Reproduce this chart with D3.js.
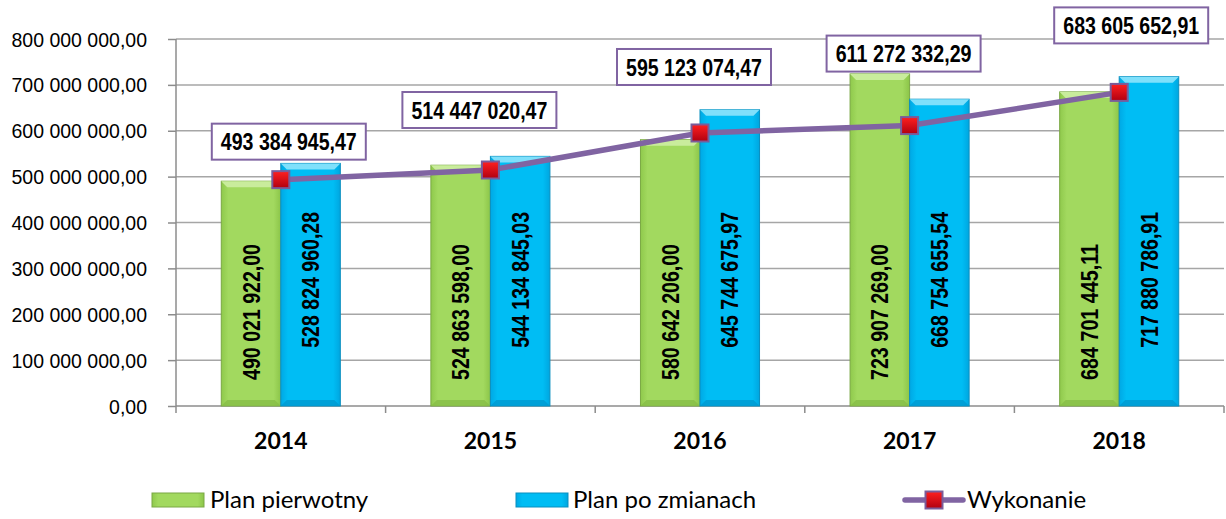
<!DOCTYPE html>
<html>
<head>
<meta charset="utf-8">
<script src="https://cdn.jsdelivr.net/npm/d3@7"></script>
<style>
  html, body { margin: 0; padding: 0; background: #fff; }
  svg { display: block; }
</style>
</head>
<body>
<div id="chart"></div>
<script>
// data
var years = ["2014", "2015", "2016", "2017", "2018"];
var planPierwotny = [490021922.00, 524863598.00, 580642206.00, 723907269.00, 684701445.11];
var planPoZmianach = [528824960.28, 544134845.03, 645744675.97, 668754655.54, 717880786.91];
var wykonanie = [493384945.47, 514447020.47, 595123074.47, 611272332.29, 683605652.91];
var yTicks = [0, 100000000, 200000000, 300000000, 400000000, 500000000, 600000000, 700000000, 800000000];
var seriesNames = ["Plan pierwotny", "Plan po zmianach", "Wykonanie"];

// label boxes were moved by hand in the original, offsets from each point (px)
var boxNudge = [[8, -38], [-11, -60], [-6, -66], [-6, -72], [12, -67]];

var W = 1226, H = 519;
var margin = { top: 39, right: 2, bottom: 113, left: 176 };
var width = W - margin.left - margin.right;
var height = H - margin.top - margin.bottom;

// polish number format: spaces for thousands, comma for decimals
var plFormat = d3.formatLocale({ decimal: ",", thousands: " ", grouping: [3], currency: ["", " zł"] }).format(",.2f");

// narrow bold look (no Arial Narrow here, so squeeze a normal bold horizontally)
var numFont = "'Liberation Sans', Arial, sans-serif";
var numLen = 136;

var svg = d3.select("#chart").append("svg")
    .attr("width", W)
    .attr("height", H);

svg.append("rect").attr("width", W).attr("height", H).attr("fill", "#fff");

var defs = svg.append("defs");

function addGrad(id, stops, horizontal) {
    var g = defs.append("linearGradient").attr("id", id)
        .attr("x1", 0).attr("y1", 0)
        .attr("x2", horizontal ? 1 : 0).attr("y2", horizontal ? 0 : 1);
    stops.forEach(function(s) {
        g.append("stop").attr("offset", s[0]).attr("stop-color", s[1]);
    });
}
addGrad("gGreen", [[0, "#8fc94c"], [0.12, "#a2d95f"], [0.88, "#a2d95f"], [1, "#8cc549"]], true);
addGrad("gCyan", [[0, "#00a8e4"], [0.12, "#00bdf4"], [0.88, "#00bdf4"], [1, "#00a6e0"]], true);
addGrad("gRed", [[0, "#ff2020"], [1, "#b00010"]], false);

var g = svg.append("g")
    .attr("transform", "translate(" + margin.left + "," + margin.top + ")");

var x0 = d3.scaleBand()
    .domain(years)
    .range([0, width])
    .paddingInner(0.432)
    .paddingOuter(0.216);

var x1 = d3.scaleBand()
    .domain([0, 1])
    .range([0, x0.bandwidth()]);

var y = d3.scaleLinear()
    .domain([0, 800000000])
    .range([height, 0]);

// squeeze a text to numLen wide, keeping its own transform
function squeeze(sel, pre) {
    sel.each(function(d, i) {
        var w = this.getComputedTextLength();
        var k = w > 0 ? numLen / w : 1;
        d3.select(this).attr("transform", pre(d, i) + " scale(" + k + ",1)");
    });
}

// gridlines
g.append("g")
    .selectAll("line")
    .data(yTicks.filter(function(d) { return d > 0; }))
    .join("line")
    .attr("x1", 0)
    .attr("x2", width)
    .attr("y1", function(d) { return y(d); })
    .attr("y2", function(d) { return y(d); })
    .attr("stroke", "#a6a6a6")
    .attr("stroke-width", 1.5);

// y axis
var yAxis = d3.axisLeft(y)
    .tickValues(yTicks)
    .tickSize(8)
    .tickFormat(function(d) { return plFormat(d); });

var yG = g.append("g").call(yAxis);
yG.select(".domain").attr("stroke", "#8c8c8c").attr("stroke-width", 1.5).attr("d", "M0," + height + "V0");
yG.selectAll(".tick line").attr("stroke", "#8c8c8c").attr("stroke-width", 1.5);
yG.selectAll(".tick text")
    .attr("x", -29)
    .attr("dy", "0.36em")
    .style("font-family", "'Liberation Sans', Arial, sans-serif")
    .style("font-size", "19.5px")
    .attr("fill", "#000");

// x axis: ticks on category boundaries
var xG = g.append("g").attr("transform", "translate(0," + height + ")");
xG.append("line")
    .attr("x1", 0).attr("x2", width)
    .attr("stroke", "#8c8c8c").attr("stroke-width", 1.5);
xG.selectAll("line.tk")
    .data(d3.range(years.length + 1))
    .join("line")
    .attr("class", "tk")
    .attr("x1", function(i) { return i * width / years.length; })
    .attr("x2", function(i) { return i * width / years.length; })
    .attr("y1", 0).attr("y2", 7)
    .attr("stroke", "#8c8c8c").attr("stroke-width", 1.5);
xG.selectAll("text")
    .data(years)
    .join("text")
    .attr("x", function(d) { return x0(d) + x0.bandwidth() / 2; })
    .attr("y", 43)
    .attr("text-anchor", "middle")
    .style("font-family", "Lato, 'Open Sans', sans-serif")
    .style("font-weight", "bold")
    .style("font-size", "23px")
    .text(function(d) { return d; });

// bars
var barData = [];
years.forEach(function(yr, i) {
    barData.push({ year: yr, s: 0, v: planPierwotny[i] });
    barData.push({ year: yr, s: 1, v: planPoZmianach[i] });
});

var fills = ["url(#gGreen)", "url(#gCyan)"];
var tops = ["#c9ec9c", "#7fe0fb"];
var bottoms = ["#86bd46", "#0098d0"];
var edges = ["#7aa844", "#0a8fbf"];

var bars = g.append("g").selectAll("g")
    .data(barData)
    .join("g")
    .attr("transform", function(d) { return "translate(" + (x0(d.year) + x1(d.s)) + ",0)"; });

var bw = x1.bandwidth();
var bev = 6;

bars.append("rect")
    .attr("x", 0)
    .attr("y", function(d) { return y(d.v); })
    .attr("width", bw)
    .attr("height", function(d) { return height - y(d.v); })
    .attr("fill", function(d) { return fills[d.s]; })
    .attr("stroke", function(d) { return edges[d.s]; })
    .attr("stroke-width", 1);

// bevel top
bars.append("path")
    .attr("d", function(d) {
        var t = y(d.v);
        return "M0," + t + "H" + bw + "L" + (bw - bev) + "," + (t + bev) + "H" + bev + "Z";
    })
    .attr("fill", function(d) { return tops[d.s]; });

// bevel bottom
bars.append("path")
    .attr("d", function(d) {
        return "M0," + height + "H" + bw + "L" + (bw - bev) + "," + (height - bev) + "H" + bev + "Z";
    })
    .attr("fill", function(d) { return bottoms[d.s]; })
    .attr("opacity", 0.8);

// bar value labels, rotated
var labelAt = [205000000, 275000000];
bars.append("text")
    .attr("text-anchor", "middle")
    .attr("dy", "0.36em")
    .style("font-family", numFont)
    .style("font-weight", "bold")
    .style("font-size", "24px")
    .attr("fill", "#000")
    .text(function(d) { return plFormat(d.v); })
    .call(squeeze, function(d) { return "translate(" + (bw / 2) + "," + y(labelAt[d.s]) + ") rotate(-90)"; });

// wykonanie line
var cx = function(i) { return x0(years[i]) + x0.bandwidth() / 2; };
var line = d3.line()
    .x(function(d, i) { return cx(i); })
    .y(function(d) { return y(d); });

g.append("path")
    .datum(wykonanie)
    .attr("fill", "none")
    .attr("stroke", "#8064a2")
    .attr("stroke-width", 5.5)
    .attr("stroke-linecap", "round")
    .attr("d", line);

var ms = 17;
g.append("g").selectAll("rect")
    .data(wykonanie)
    .join("rect")
    .attr("x", function(d, i) { return cx(i) - ms / 2; })
    .attr("y", function(d) { return y(d) - ms / 2; })
    .attr("width", ms)
    .attr("height", ms)
    .attr("fill", "url(#gRed)")
    .attr("stroke", "#7a5c9a")
    .attr("stroke-width", 2);

// value boxes
var boxW = 154, boxH = 36;
var boxes = g.append("g").selectAll("g")
    .data(wykonanie)
    .join("g")
    .attr("transform", function(d, i) {
        return "translate(" + (cx(i) + boxNudge[i][0]) + "," + (y(d) + boxNudge[i][1]) + ")";
    });

boxes.append("rect")
    .attr("x", -boxW / 2)
    .attr("y", -boxH / 2)
    .attr("width", boxW)
    .attr("height", boxH)
    .attr("fill", "#fff")
    .attr("stroke", "#8064a2")
    .attr("stroke-width", 2);

boxes.append("text")
    .attr("text-anchor", "middle")
    .attr("dy", "0.36em")
    .style("font-family", numFont)
    .style("font-weight", "bold")
    .style("font-size", "24px")
    .text(function(d) { return plFormat(d); })
    .call(squeeze, function() { return ""; });

// legend
var legend = svg.append("g").attr("class", "legend");
var legX = [152, 516, 905];
var legY = 500;

legend.append("rect")
    .attr("x", legX[0]).attr("y", legY - 7).attr("width", 52).attr("height", 14)
    .attr("fill", "url(#gGreen)").attr("stroke", "#7aa844");
legend.append("rect")
    .attr("x", legX[1]).attr("y", legY - 7).attr("width", 52).attr("height", 14)
    .attr("fill", "url(#gCyan)").attr("stroke", "#0a8fbf");
legend.append("line")
    .attr("x1", legX[2]).attr("x2", legX[2] + 58)
    .attr("y1", legY).attr("y2", legY)
    .attr("stroke", "#8064a2").attr("stroke-width", 5.5).attr("stroke-linecap", "round");
legend.append("rect")
    .attr("x", legX[2] + 29 - ms / 2).attr("y", legY - ms / 2)
    .attr("width", ms).attr("height", ms)
    .attr("fill", "url(#gRed)").attr("stroke", "#7a5c9a").attr("stroke-width", 2);

var legTextX = [legX[0] + 58, legX[1] + 57, legX[2] + 62];
legend.selectAll("text")
    .data(seriesNames)
    .join("text")
    .attr("x", function(d, i) { return legTextX[i]; })
    .attr("y", legY + 8)
    .style("font-family", "Lato, 'Open Sans', sans-serif")
    .style("font-size", "24px")
    .attr("fill", "#000")
    .text(function(d) { return d; });
</script>
</body>
</html>
